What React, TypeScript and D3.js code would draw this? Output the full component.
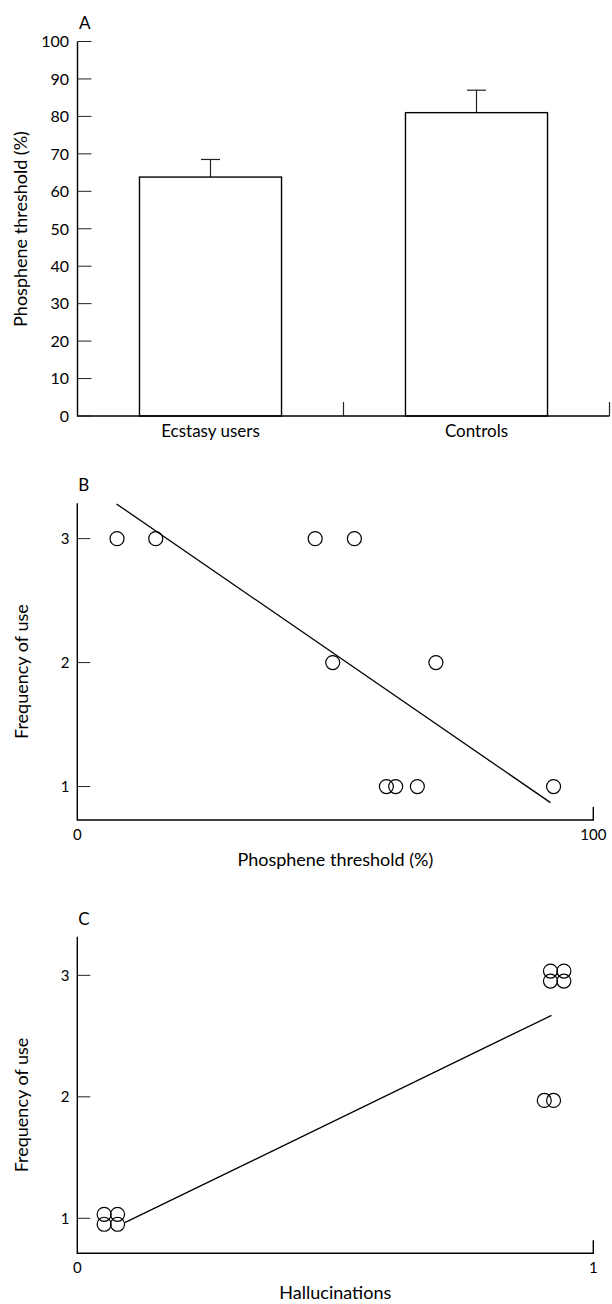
import React from "react";
import * as d3 from "d3";

// Panel A: phosphene threshold by group
const groups = ["Ecstasy users", "Controls"];
const thresholdMean = [63.8, 81.0];
const thresholdErr = [4.7, 6.0];
const yTicksA = [0, 10, 20, 30, 40, 50, 60, 70, 80, 90, 100];

// Panel B: frequency of use vs phosphene threshold
const phospheneB = [7.7, 15.2, 46.1, 53.7, 49.5, 69.5, 59.9, 61.7, 65.9, 92.3];
const frequencyB = [3, 3, 3, 3, 2, 2, 1, 1, 1, 1];
const fitBx = [7.6, 91.7];
const fitBy = [3.28, 0.87];
const xTicksB = [0, 100];

// Panel C: frequency of use vs hallucinations
const hallucC = [0.052, 0.078, 0.052, 0.078, 0.917, 0.943, 0.917, 0.943, 0.905, 0.923];
const frequencyC = [1.033, 1.033, 0.951, 0.951, 3.035, 3.035, 2.953, 2.953, 1.97, 1.97];
const fitCx = [0.092, 0.919];
const fitCy = [0.964, 2.67];
const xTicksC = [0, 1];

const yTicksFreq = [1, 2, 3];

const FONT = "Lato, 'Open Sans', sans-serif";

const ScatterPanel = ({ letter, xs, ys, fx, fy, xTicks, xDomain, yDomain, top, bottom, xLabel }) => {
  const left = 77.3;
  const right = 593.3;
  const x = d3.scaleLinear().domain(xDomain).range([left, right]);
  const y = d3.scaleLinear().domain(yDomain).range([bottom, top]);
  const line = d3.line<number>().x((d) => x(fx[d])).y((d) => y(fy[d]));
  return (
    <g>
      <text x={left + 1} y={top - 12} fontSize={17} fontFamily={FONT}>{letter}</text>
      <path d={`M${left},${top}V${bottom}H${right}V${bottom - 13}`} fill="none" stroke="#000" strokeWidth={1.4} />
      {yTicksFreq.map((t) => (
        <g key={t}>
          <line x1={left} x2={left + 13} y1={y(t)} y2={y(t)} stroke="#222" strokeWidth={1} />
          <text x={69.5} y={y(t)} dy="0.36em" textAnchor="end" fontSize={15} fontFamily={FONT}>{t}</text>
        </g>
      ))}
      {xTicks.map((t) => (
        <text key={t} x={x(t)} y={bottom + 20} textAnchor="middle" fontSize={15} fontFamily={FONT}>{t}</text>
      ))}
      <path d={line([0, 1]) || ""} fill="none" stroke="#000" strokeWidth={1.3} />
      {xs.map((v, i) => (
        <circle key={i} cx={x(v)} cy={y(ys[i])} r={7} fill="none" stroke="#000" strokeWidth={1.2} />
      ))}
      <text x={(left + right) / 2} y={bottom + 46} textAnchor="middle" fontSize={18} fontFamily={FONT}>{xLabel}</text>
      <text
        transform={`translate(28,${(top + bottom) / 2 + 10}) rotate(-90)`}
        textAnchor="middle"
        fontSize={18}
        fontFamily={FONT}
      >
        Frequency of use
      </text>
    </g>
  );
};

export default function App() {
  const left = 77.5;
  const right = 609.5;
  const baseA = 416;
  const xA = d3.scaleBand().domain(groups).range([left, right]).paddingInner(0.466).paddingOuter(0.233);
  const yA = d3.scaleLinear().domain([0, 100]).range([baseA, 41.5]);
  const step = xA.step();

  return (
    <svg width={612} height={1304} style={{ position: "absolute", left: 0, top: 0, background: "#fff" }}>
      <rect width={612} height={1304} fill="#fff" />
      {/* Panel A */}
      <text x={79} y={29} fontSize={17} fontFamily={FONT}>A</text>
      {groups.map((g, i) => {
        const bx = xA(g) || 0;
        const cx = bx + xA.bandwidth() / 2;
        return (
          <g key={g}>
            <line x1={cx} x2={cx} y1={yA(thresholdMean[i])} y2={yA(thresholdMean[i] + thresholdErr[i])} stroke="#222" strokeWidth={1.2} />
            <line x1={cx - 9.5} x2={cx + 9.5} y1={yA(thresholdMean[i] + thresholdErr[i])} y2={yA(thresholdMean[i] + thresholdErr[i])} stroke="#222" strokeWidth={1.2} />
            <rect x={bx} y={yA(thresholdMean[i])} width={xA.bandwidth()} height={baseA - yA(thresholdMean[i])} fill="#fff" stroke="#000" strokeWidth={1.4} />
            <text x={cx} y={436.7} textAnchor="middle" fontSize={17} fontFamily={FONT}>{g}</text>
          </g>
        );
      })}
      <path d={`M${left},${yA(100)}V${baseA}H${right}`} fill="none" stroke="#000" strokeWidth={1.4} />
      {[1, 2].map((k) => (
        <line key={k} x1={left + k * step} x2={left + k * step} y1={baseA} y2={baseA - 14} stroke="#222" strokeWidth={1.2} />
      ))}
      {yTicksA.map((t) => (
        <g key={t}>
          <line x1={left} x2={left + 14} y1={yA(t)} y2={yA(t)} stroke="#222" strokeWidth={1} />
          <text x={69} y={yA(t)} dy="0.36em" textAnchor="end" fontSize={16} fontFamily={FONT}>{t}</text>
        </g>
      ))}
      <text transform={`translate(27,229) rotate(-90)`} textAnchor="middle" fontSize={18} fontFamily={FONT}>
        Phosphene threshold (%)
      </text>

      <ScatterPanel
        letter="B"
        xs={phospheneB}
        ys={frequencyB}
        fx={fitBx}
        fy={fitBy}
        xTicks={xTicksB}
        xDomain={[0, 100]}
        yDomain={[0.73, 3.285]}
        top={503.3}
        bottom={820}
        xLabel="Phosphene threshold (%)"
      />
      <ScatterPanel
        letter="C"
        xs={hallucC}
        ys={frequencyC}
        fx={fitCx}
        fy={fitCy}
        xTicks={xTicksC}
        xDomain={[0, 1]}
        yDomain={[0.712, 3.318]}
        top={936.7}
        bottom={1253.3}
        xLabel="Hallucinations"
      />
    </svg>
  );
}
